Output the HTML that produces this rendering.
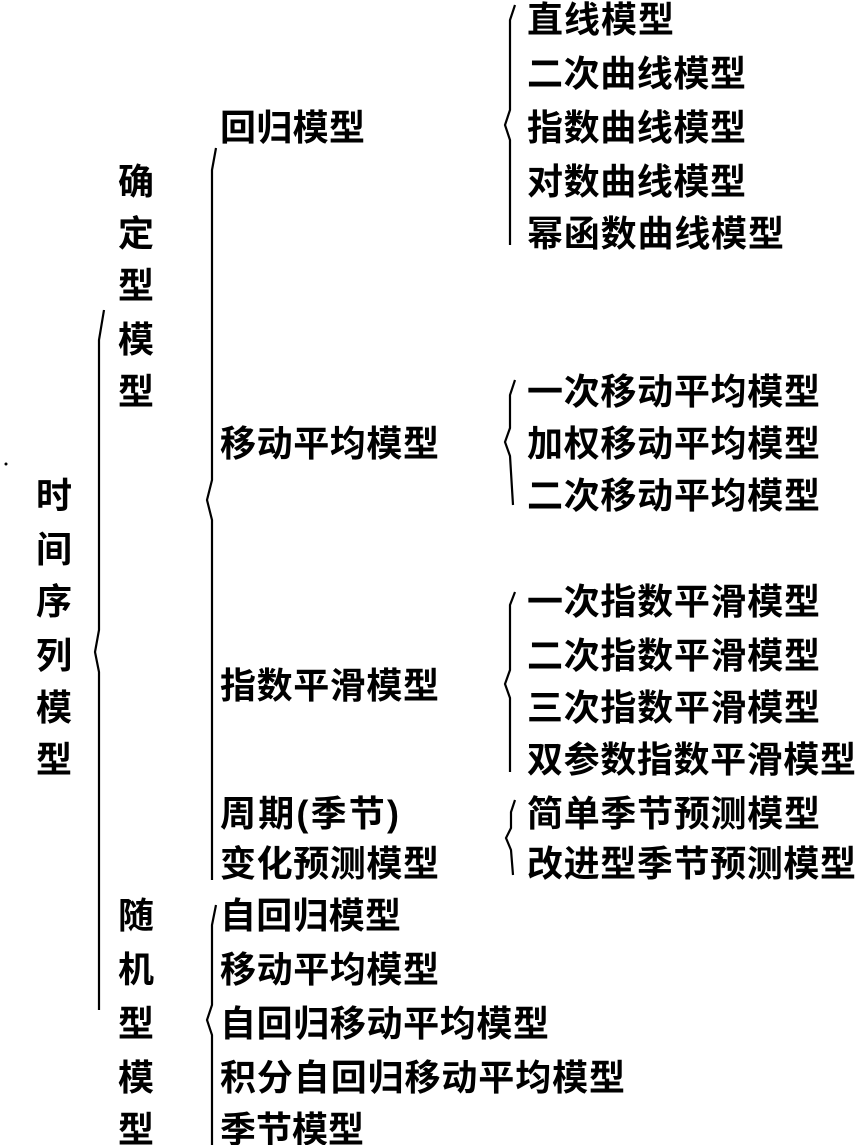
<!DOCTYPE html>
<html><head><meta charset="utf-8"><style>
html,body{margin:0;padding:0;background:#fff;}
svg{display:block}
text{font-family:"Liberation Sans","Noto Sans CJK SC",sans-serif;font-size:36px;font-weight:bold;fill:#000;letter-spacing:1px}
</style></head><body>
<svg width="858" height="1145" viewBox="0 0 858 1145" xmlns="http://www.w3.org/2000/svg">
<g fill="none" stroke="#000" stroke-width="2.2">
<path d="M104 310 L99 340 L99 630 L95 652 L99 672 L99 1010"/>
<path d="M216 148 L212 170 L212 480 L207 500 L212 520 L212 880"/>
<path d="M216 905 L212 925 L212 1005 L207 1020 L212 1035 L212 1145"/>
<path d="M515 5 L510 20 L510 110 L505 125 L510 140 L510 245"/>
<path d="M515 380 L510 395 L510 428 L505 442 L510 456 L513 505"/>
<path d="M515 592 L510 605 L510 670 L505 684 L510 698 L510 772"/>
<path d="M515 800 L511 812 L511 828 L506 838 L511 850 L513 875"/>
</g>
<circle cx="6" cy="464" r="1.5" fill="#000"/>
<g>
<text x="527" y="32" textLength="148">直线模型</text>
<text x="527" y="86" textLength="220">二次曲线模型</text>
<text x="527" y="140" textLength="220">指数曲线模型</text>
<text x="527" y="194" textLength="220">对数曲线模型</text>
<text x="527" y="246" textLength="258">幂函数曲线模型</text>
<text x="527" y="404" textLength="294">一次移动平均模型</text>
<text x="527" y="456" textLength="294">加权移动平均模型</text>
<text x="527" y="508" textLength="294">二次移动平均模型</text>
<text x="527" y="614" textLength="294">一次指数平滑模型</text>
<text x="527" y="668" textLength="294">二次指数平滑模型</text>
<text x="527" y="720" textLength="294">三次指数平滑模型</text>
<text x="527" y="772" textLength="330">双参数指数平滑模型</text>
<text x="527" y="826" textLength="294">简单季节预测模型</text>
<text x="527" y="876" textLength="330">改进型季节预测模型</text>

<text x="220" y="140" textLength="146">回归模型</text>
<text x="220" y="456" textLength="220">移动平均模型</text>
<text x="220" y="698" textLength="220">指数平滑模型</text>
<text x="220" y="826" textLength="180">周期(季节)</text>
<text x="220" y="876" textLength="220">变化预测模型</text>
<text x="220" y="928" textLength="182">自回归模型</text>
<text x="220" y="982" textLength="220">移动平均模型</text>
<text x="220" y="1036" textLength="330">自回归移动平均模型</text>
<text x="220" y="1090" textLength="406">积分自回归移动平均模型</text>
<text x="220" y="1142" textLength="145">季节模型</text>

<text x="118" y="194">确</text>
<text x="118" y="246">定</text>
<text x="118" y="298">型</text>
<text x="118" y="352">模</text>
<text x="118" y="404">型</text>
<text x="118" y="928">随</text>
<text x="118" y="982">机</text>
<text x="118" y="1036">型</text>
<text x="118" y="1090">模</text>
<text x="118" y="1142">型</text>

<text x="36" y="508">时</text>
<text x="36" y="562">间</text>
<text x="36" y="614">序</text>
<text x="36" y="668">列</text>
<text x="36" y="720">模</text>
<text x="36" y="772">型</text>
</g>
</svg>
</body></html>
